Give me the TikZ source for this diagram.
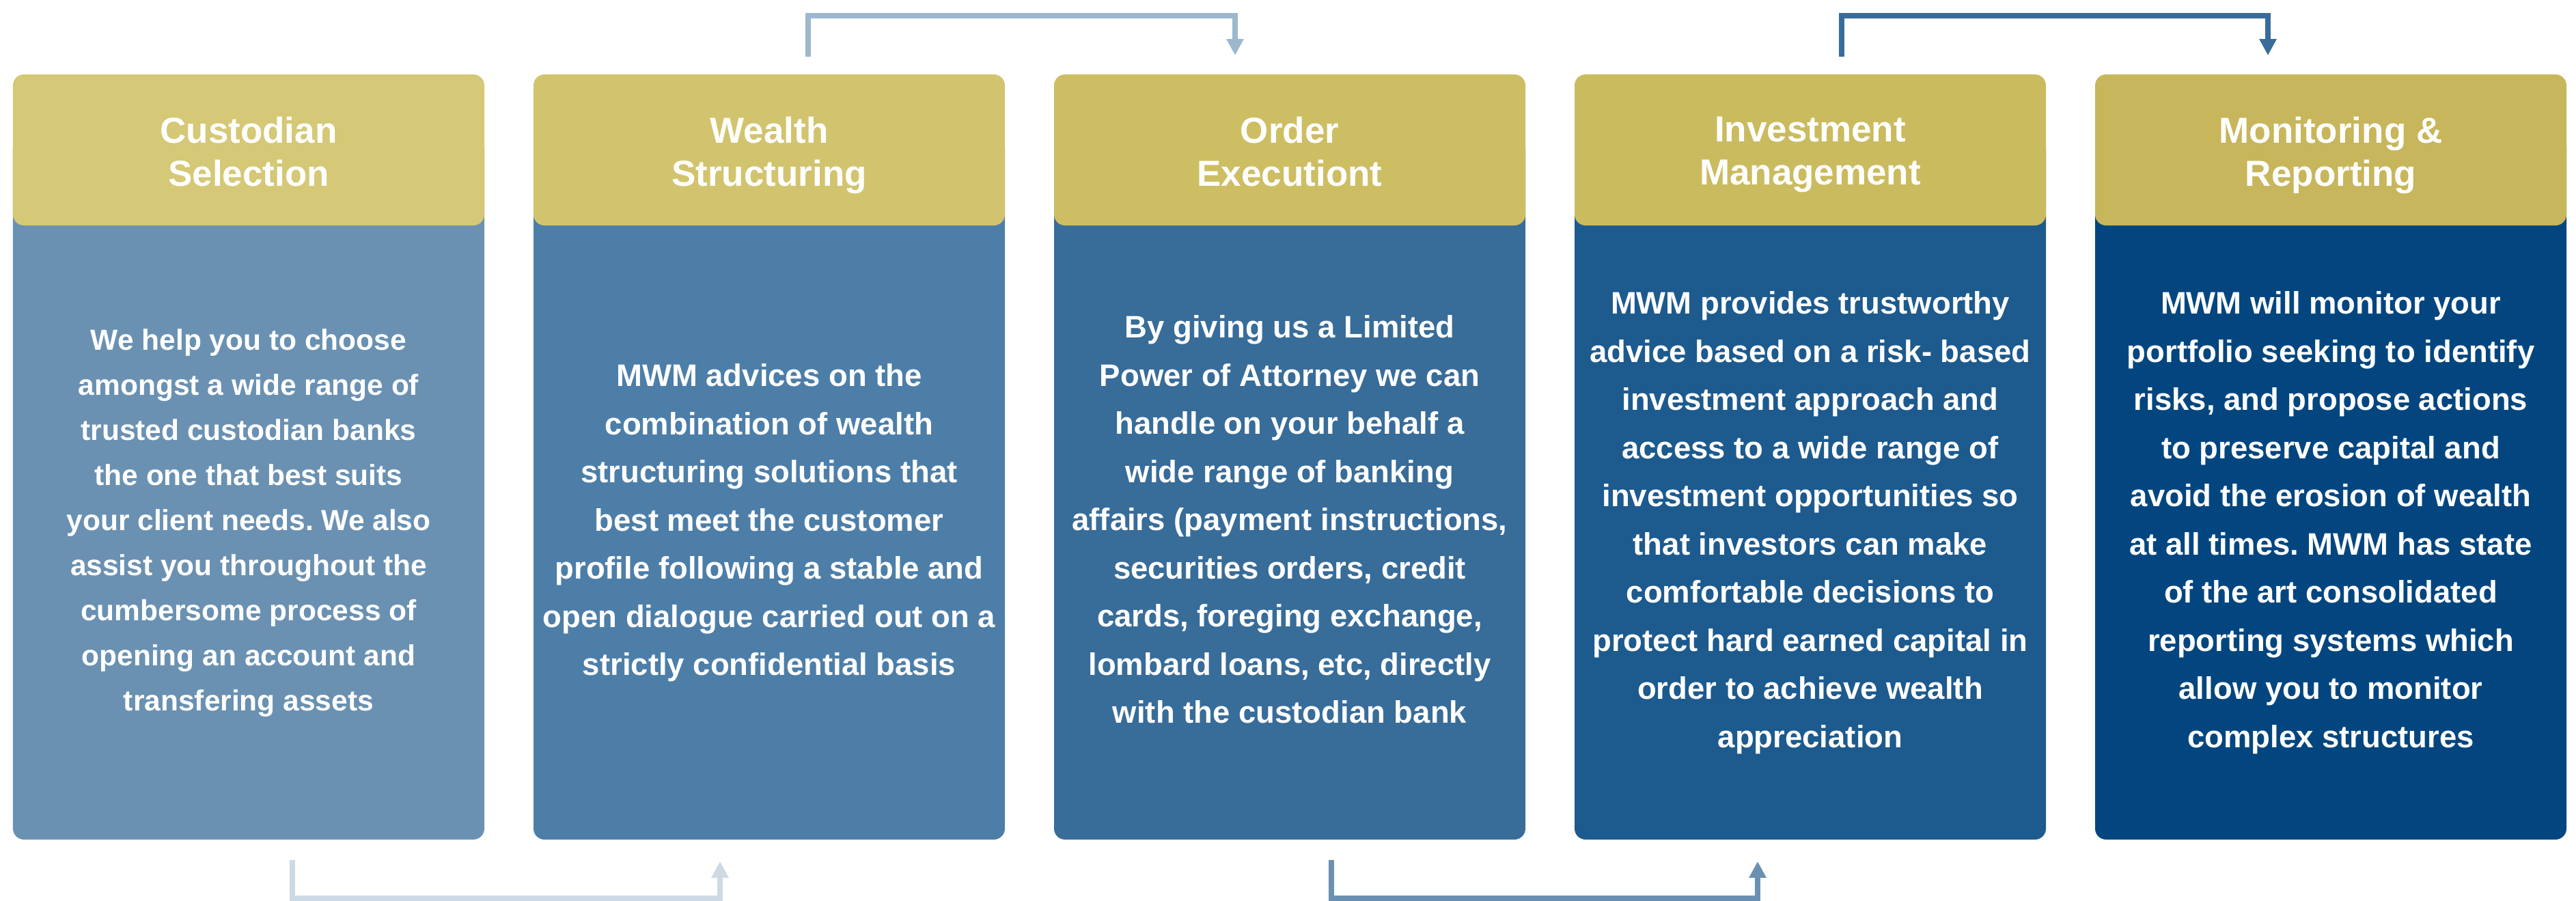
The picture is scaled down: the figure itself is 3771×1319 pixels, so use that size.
\documentclass[tikz,border=0pt]{standalone}
\usepackage{fontspec}
\setmainfont{Liberation Sans}
\usetikzlibrary{arrows.meta}
\frenchspacing
\definecolor{hA}{HTML}{D5C876}
\definecolor{hB}{HTML}{D2C46E}
\definecolor{hC}{HTML}{CDBE63}
\definecolor{hD}{HTML}{CABB5F}
\definecolor{hE}{HTML}{C7B65B}
\definecolor{bA}{HTML}{6A91B2}
\definecolor{bB}{HTML}{4D7EA8}
\definecolor{bC}{HTML}{386C99}
\definecolor{bD}{HTML}{1D5A8E}
\definecolor{bE}{HTML}{03467F}
\definecolor{aA}{HTML}{9DB8CE}
\definecolor{aB}{HTML}{386C99}
\definecolor{aC}{HTML}{CCDAE5}
\definecolor{aD}{HTML}{6A91B2}
\begin{document}
\frenchspacing
\begin{tikzpicture}[x=0.2pt,y=-0.2pt,
  hdr/.style={fill=#1, draw=none, rounded corners=3.2pt, minimum width=138pt, minimum height=44.2pt, inner sep=0pt},
  bodybox/.style={fill=#1, draw=none, rounded corners=3.2pt, minimum width=138pt, minimum height=205.8pt, inner sep=0pt},
  htext/.style={text=white, font=\bfseries\fontsize{10.6}{12.7}\selectfont, align=center, anchor=north, inner sep=0pt},
  btext/.style={text=white, font=\bfseries\fontsize{9.1}{14.1}\selectfont\frenchspacing, align=center, anchor=north, inner sep=0pt},
  flow/.style={draw=#1, line width=1.6pt, line join=miter, -{Triangle[width=4.8pt,length=4.8pt]}}
]
\useasboundingbox (0,0) rectangle (3771,1319);
% bodies
\node[bodybox=bA] (bodyA) at (364,714.5) {};
\node[bodybox=bB] (bodyB) at (1126,714.5) {};
\node[bodybox=bC] (bodyC) at (1888,714.5) {};
\node[bodybox=bD] (bodyD) at (2650,714.5) {};
\node[bodybox=bE] (bodyE) at (3412,714.5) {};
% headers
\node[hdr=hA] (hdrA) at (364,219.5) {};
\node[hdr=hB] (hdrB) at (1126,219.5) {};
\node[hdr=hC] (hdrC) at (1888,219.5) {};
\node[hdr=hD] (hdrD) at (2650,219.5) {};
\node[hdr=hE] (hdrE) at (3412,219.5) {};
% header texts
\node[htext] (tA) at (364,170) {Custodian\\Selection};
\node[htext] (tB) at (1126,170) {Wealth\\Structuring};
\node[htext] (tC) at (1888,170) {Order\\Executiont};
\node[htext] (tD) at (2650,170) {Investment\\Management};
\node[htext] (tE) at (3412,170) {Monitoring \&\\Reporting};
% body texts
\node[btext, font=\bfseries\fontsize{8.5}{13.2}\selectfont\frenchspacing] (xA) at (364,481) {We help you to choose\\amongst a wide range of\\trusted custodian banks\\the one that best suits\\your client needs. We also\\assist you throughout the\\cumbersome process of\\opening an account and\\transfering assets};
\node[btext] (xB) at (1126,532) {MWM advices on the\\combination of wealth\\structuring solutions that\\best meet the customer\\profile following a stable and\\open dialogue carried out on a\\strictly confidential basis};
\node[btext] (xC) at (1888,461) {By giving us a Limited\\Power of Attorney we can\\handle on your behalf a\\wide range of banking\\affairs (payment instructions,\\securities orders, credit\\cards, foreging exchange,\\lombard loans, etc, directly\\with the custodian bank};
\node[btext] (xD) at (2650,426) {MWM provides trustworthy\\advice based on a risk- based\\investment approach and\\access to a wide range of\\investment opportunities so\\that investors can make\\comfortable decisions to\\protect hard earned capital in\\order to achieve wealth\\appreciation};
\node[btext] (xE) at (3412,426) {MWM will monitor your\\portfolio seeking to identify\\risks, and propose actions\\to preserve capital and\\avoid the erosion of wealth\\at all times. MWM has state\\of the art consolidated\\reporting systems which\\allow you to monitor\\complex structures};
% connector ends
\coordinate (s1) at (1183,83);
\coordinate (e1) at (1808,81);
\coordinate (s2) at (2696,83);
\coordinate (e2) at (3320,81);
\coordinate (s3) at (428,1259);
\coordinate (e3) at (1054,1261);
\coordinate (s4) at (1949,1259);
\coordinate (e4) at (2573,1261);
\draw[flow=aA] (s1) -- ++(0,-60.5) -| (e1);
\draw[flow=aB] (s2) -- ++(0,-60.5) -| (e2);
\draw[flow=aC] (s3) -- ++(0,56) -| (e3);
\draw[flow=aD] (s4) -- ++(0,56) -| (e4);
\end{tikzpicture}
\end{document}
